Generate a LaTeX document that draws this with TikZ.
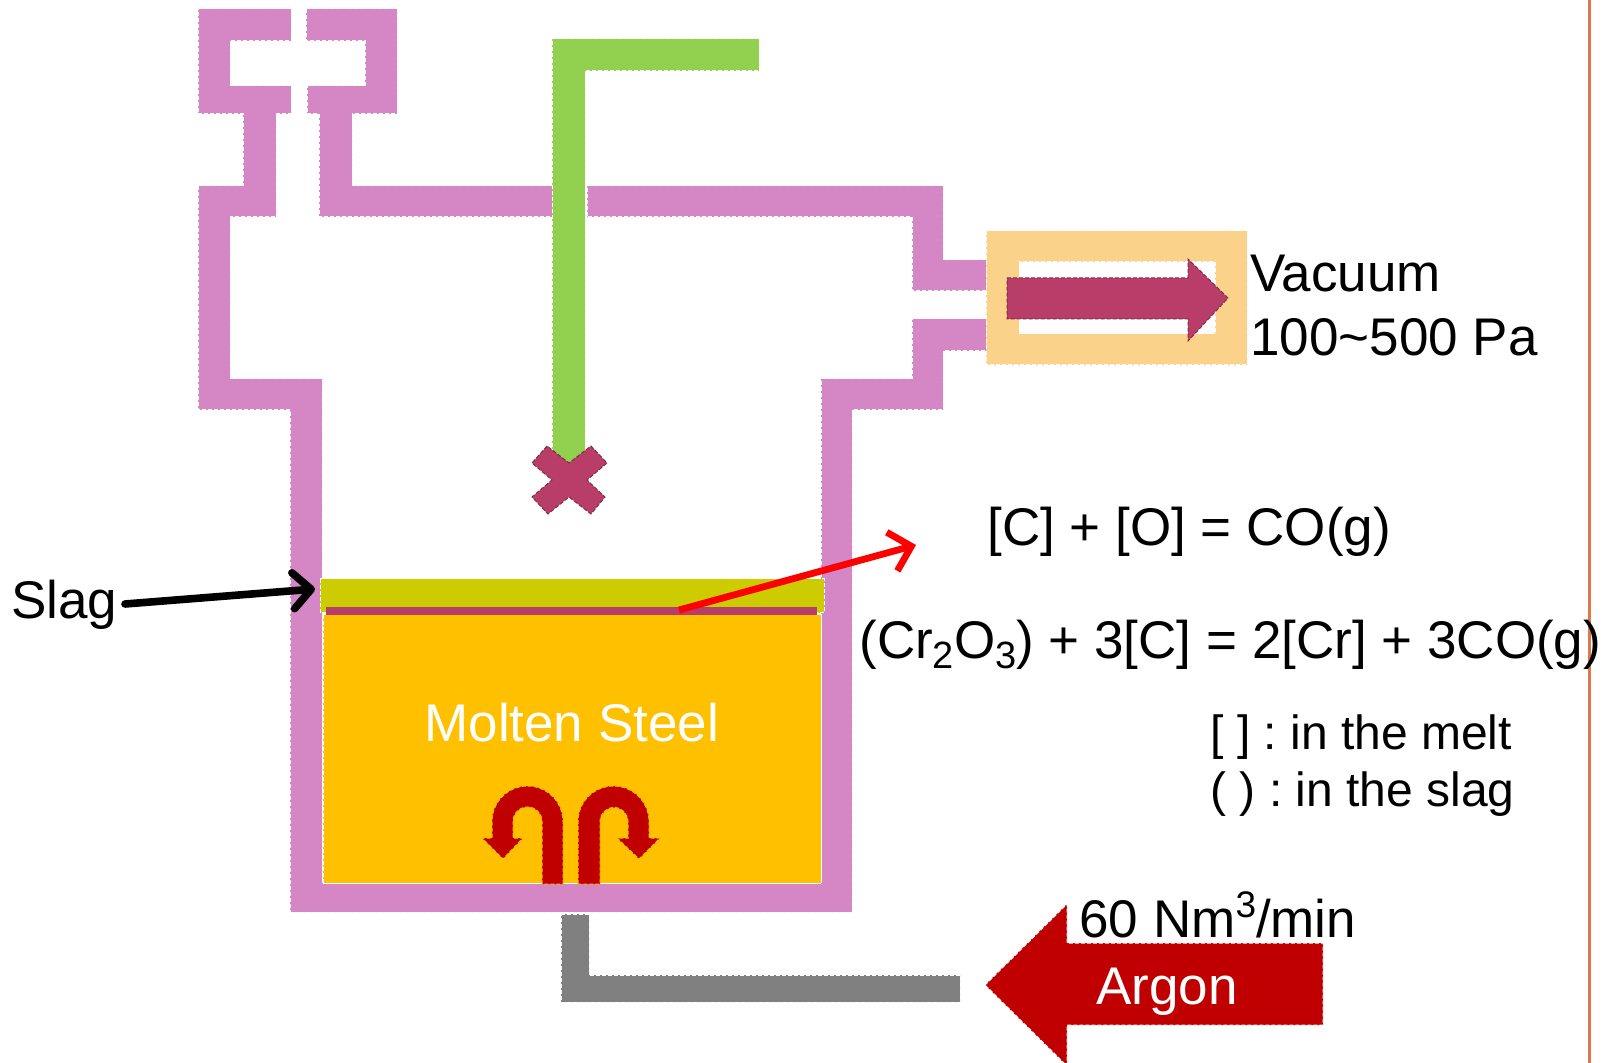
\documentclass[tikz,border=0pt]{standalone}
\usepackage{fontspec}
\setmainfont{Liberation Sans}
\usetikzlibrary{arrows.meta}
\definecolor{wallpink}{HTML}{D486C5}
\definecolor{lancegreen}{HTML}{92D050}
\definecolor{slagolive}{HTML}{CCCC00}
\definecolor{meltorange}{HTML}{FFC000}
\definecolor{gasred}{HTML}{C00000}
\definecolor{jetrose}{HTML}{B83D68}
\definecolor{pipegray}{HTML}{808080}
\definecolor{framesand}{HTML}{FAD28A}
\definecolor{edgeline}{HTML}{E0774A}
\newcommand{\lowdigit}[1]{\raisebox{-.2em}{\fontsize{19}{19}\selectfont #1}}
\newcommand{\highdigit}[1]{\raisebox{.37em}{\fontsize{18.5}{19}\selectfont #1}}
\frenchspacing
\tikzset{
  dashedge/.style={line width=.5pt,dash pattern=on 2pt off 1pt},
  wall/.style={fill=wallpink,draw=white,dashedge},
  plain/.style={fill=#1,draw=white,dashedge},
  rose/.style={fill=jetrose,draw=jetrose!70!black,dashedge},
  label/.style={anchor=base west,inner sep=0pt,font=\fontsize{26.5}{30}\selectfont},
  note/.style={anchor=base west,inner sep=0pt,font=\fontsize{24}{30}\selectfont},
}
\begin{document}
\begin{tikzpicture} [x=.5pt,y=-.5pt]%vacuum vessel
\useasboundingbox (0,0) rectangle (1606,1063);
\fill [white] (0,0) rectangle (1606,1063);
\draw [edgeline,line width=1.5pt] (1589,0) -- (1589,1063);

% vessel
\draw [wall] (291,9) -- (198,9) -- (198,114) -- (243,114) -- (243,186) -- (198,186) -- (198,410) -- (290,410) -- (290,912) -- (852,912) -- (852,410) -- (943,410) -- (943,351) -- (986,351) -- (986,319) -- (912,319) -- (912,379) -- (821,379) -- (821,883) -- (322,883) -- (322,379) -- (230,379) -- (230,217) -- (276,217) -- (276,114) -- (291,114) -- (291,86) -- (230,86) -- (230,41) -- (291,41) -- cycle;
\draw [wall] (306,9) -- (397,9) -- (397,114) -- (352,114) -- (352,186) -- (555,186) -- (555,217) -- (319,217) -- (319,114) -- (307,114) -- (307,86) -- (365,86) -- (365,41) -- (306,41) -- cycle;
\draw [wall] (587,186) -- (943,186) -- (943,260) -- (986,260) -- (986,291) -- (912,291) -- (912,217) -- (587,217) -- cycle;

% melt
\draw [plain=slagolive] (320,579) rectangle (824,613);
\draw [plain=meltorange] (323,615) rectangle (821,883);
\fill [jetrose] (326,607) rectangle (817,615);

% lance
\draw [plain=lancegreen] (552,39) -- (759,39) -- (759,71) -- (585,71) -- (585,465) -- (552,465) -- cycle;
\draw [rose] (547,446) -- (532,463) -- (552,480) -- (532,497) -- (548,514) -- (569,497) -- (591,514) -- (605,497) -- (587,480) -- (607,463) -- (591,446) -- (569,463) -- cycle;

% vacuum
\draw [plain=framesand,even odd rule] (986,231) rectangle (1247,365) (1019,262) rectangle (1215,334);
\draw [rose] (1007,278) -- (1188,278) -- (1188,259) -- (1228,298) -- (1188,341) -- (1188,319) -- (1007,319) -- cycle;

% argon
\draw [plain=pipegray] (561,914) -- (589,914) -- (589,975) -- (960,975) -- (960,1002) -- (561,1002) -- cycle;
\draw [plain=gasred] (985,985) -- (1067,904) -- (1067,943) -- (1323,943) -- (1323,1025) -- (1067,1025) -- (1067,1066) -- cycle;
\draw [fill=gasred,draw=meltorange,dashedge] (563,884) -- (563,821.5) arc (0:-180:35.5) -- (492,838) -- (482,838) -- (503,859) -- (523,838) -- (513,838) -- (513,821.5) arc (-180:0:14.5) -- (542,884) -- cycle;
\draw [fill=gasred,draw=meltorange,dashedge] (578,884) -- (578,821.5) arc (-180:0:35.5) -- (649,838) -- (660,838) -- (639,859) -- (617,838) -- (628,838) -- (628,821.5) arc (0:-180:14) -- (600,884) -- cycle;

% texts
\node [label] (slag) at (11,618) {Slag};
\node [label] (vacuum) at (1250,292) {Vacuum};
\node [label] (pressure) at (1250,356) {100\char"7E 500 Pa};
\node [label] (reactionc) at (987,546) {[C] + [O] = CO(g)};
\node [label] (reactioncr) at (859,658) {(Cr\lowdigit{2}O\lowdigit{3}) + 3[C] = 2[Cr] + 3CO(g)};
\node [note] (melt) at (1210,749) {[ ] : in the melt};
\node [note] (inslag) at (1210,806) {( ) : in the slag};
\node [label,white] (steel) at (424,741) {Molten Steel};
\node [label] (flow) at (1079,937) {60 Nm\highdigit{3}/min};
\node [label,white] (argon) at (1096,1004) {Argon};

\coordinate (slagtail) at (125,604);
\coordinate (slagtop) at (315,589);
\coordinate (surface) at (679,610);
\coordinate (escape) at (916,545);
\draw [line width=3.8pt,line cap=round,-{Straight Barb[length=9pt,width=18pt,round]}] (slagtail) -- (slagtop);
\draw [red,line width=3.4pt,-{Straight Barb[length=10pt,width=20pt]}] (surface) -- (escape);
\end{tikzpicture}
\end{document}
